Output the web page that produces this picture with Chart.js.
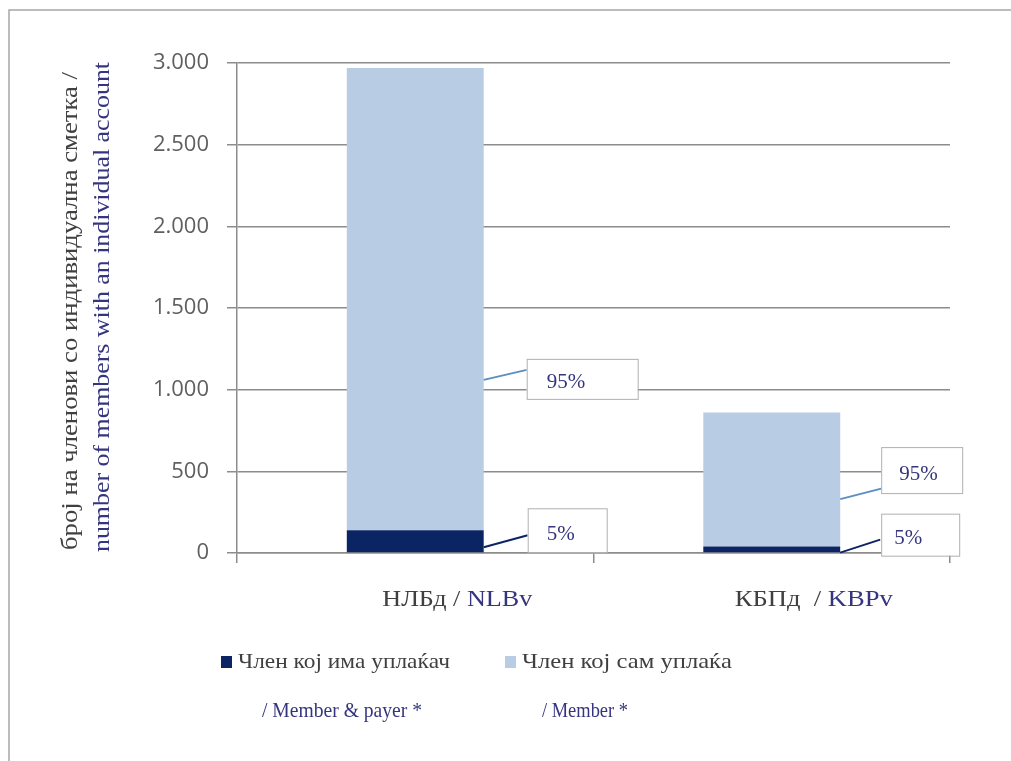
<!DOCTYPE html>
<html>
<head>
<meta charset="utf-8">
<script src="https://cdn.jsdelivr.net/npm/chart.js@4/dist/chart.umd.min.js"></script>
<style>
  html, body { margin: 0; padding: 0; background: #fff; }
  canvas { display: block; }
</style>
</head>
<body>
<canvas id="c" width="1011" height="761"></canvas>
<script>
// --- data -------------------------------------------------------------
const categoriesMk = ['НЛБд /', 'КБПд  /'];
const categoriesEn = ['NLBv', 'KBPv'];
const payerMembers = [140, 40];     // Член кој има уплаќач / Member & payer
const selfMembers  = [2830, 820];   // Член кој сам уплаќа / Member
const yTickLabels  = ['0', '500', '1.000', '1.500', '2.000', '2.500', '3.000'];
const shareLabels  = { payer: ['5%', '5%'], self: ['95%', '95%'] };

// --- look -------------------------------------------------------------
const NAVY = '#0b2463';
const LIGHT = '#b8cce3';
const GRID = '#8c8c8c';
const BLUE_TXT = '#35357f';
const GRAY_TXT = '#404040';
const SERIF = "'Liberation Serif', 'DejaVu Serif', serif";

// callout placement: anchor value on the bar's right edge, box offset from it
const callouts = [
  { ds: 1, i: 0, text: shareLabels.self[0],  anchor: 1060, dx: 43, dy: -10, bx: 43, by: -21, w: 111, h: 40, tx: 20, line: '#5b8ec2' },
  { ds: 0, i: 0, text: shareLabels.payer[0], anchor: 35,   dx: 44, dy: -12, bx: 44, by: -39, w: 79,  h: 44, tx: 19, line: NAVY },
  { ds: 1, i: 1, text: shareLabels.self[1],  anchor: 330,  dx: 43, dy: -11, bx: 41, by: -52, w: 81,  h: 46, tx: 18, line: '#5b8ec2' },
  { ds: 0, i: 1, text: shareLabels.payer[1], anchor: 2,    dx: 40, dy: -13, bx: 41, by: -39, w: 78,  h: 42, tx: 13, line: NAVY },
];

// draws text squeezed/stretched to the width it has in the original (Cambria is wider than Times)
function fitText(ctx, text, x, y, width) {
  const sx = width / ctx.measureText(text).width;
  ctx.save();
  ctx.translate(x, y);
  ctx.scale(sx, 1);
  ctx.textAlign = 'left';
  ctx.fillText(text, 0, 0);
  ctx.restore();
  return width;
}

const decor = {
  id: 'decor',
  beforeDraw(chart) {
    const ctx = chart.ctx;
    ctx.save();
    ctx.strokeStyle = '#a6a6a6';
    ctx.lineWidth = 1.5;
    ctx.beginPath();
    ctx.moveTo(9, 761); ctx.lineTo(9, 10); ctx.lineTo(1011, 10);
    ctx.stroke();
    ctx.restore();
  },
  afterDatasetsDraw(chart) {
    const ctx = chart.ctx;
    const y = chart.scales.y, x = chart.scales.x;
    ctx.save();
    ctx.textBaseline = 'middle';

    // callouts
    callouts.forEach(c => {
      const bar = chart.getDatasetMeta(c.ds).data[c.i];
      const ax = bar.x + bar.width / 2;
      const ay = y.getPixelForValue(c.anchor);
      ctx.strokeStyle = c.line;
      ctx.lineWidth = 2;
      ctx.beginPath();
      ctx.moveTo(ax, ay); ctx.lineTo(ax + c.dx, ay + c.dy);
      ctx.stroke();
      ctx.fillStyle = '#fff';
      ctx.fillRect(ax + c.bx, ay + c.by, c.w, c.h);
      ctx.strokeStyle = '#b0b0b0';
      ctx.lineWidth = 1;
      ctx.strokeRect(ax + c.bx + 0.5, ay + c.by + 0.5, c.w, c.h);
      ctx.fillStyle = BLUE_TXT;
      ctx.font = '21px ' + SERIF;
      ctx.textAlign = 'left';
      ctx.fillText(c.text, ax + c.bx + c.tx, ay + c.by + c.h / 2 + 4);
    });

    // category labels (two colours)
    const catWidths = [150, 158];
    ctx.font = '23px ' + SERIF;
    categoriesMk.forEach((mk, i) => {
      const cx = x.getPixelForValue(i) + 42;
      const en = categoriesEn[i];
      const m1 = ctx.measureText(mk + ' ').width;
      const m2 = ctx.measureText(en).width;
      const k = catWidths[i] / (m1 + m2);
      const left = cx - catWidths[i] / 2;
      ctx.fillStyle = GRAY_TXT;
      fitText(ctx, mk + ' ', left, 600, m1 * k);
      ctx.fillStyle = BLUE_TXT;
      fitText(ctx, en, left + m1 * k, 600, m2 * k);
    });

    // y axis title, two lines
    ctx.font = '24px ' + SERIF;
    [['број на членови со индивидуална сметка /', 71, 311, 478, GRAY_TXT],
     ['number of members with an individual account', 103, 307, 490, BLUE_TXT]].forEach(([t, cx, cy, w, col]) => {
      ctx.save();
      ctx.translate(cx, cy);
      ctx.rotate(-Math.PI / 2);
      ctx.fillStyle = col;
      fitText(ctx, t, -w / 2, 0, w);
      ctx.restore();
    });

    // legend
    const items = [
      { color: NAVY,  l1: 'Член кој има уплаќач', w1: 212, l2: '/ Member & payer *', w2: 160, x: 221, x2: 262 },
      { color: LIGHT, l1: 'Член кој сам уплаќа',  w1: 210, l2: '/ Member *',         w2: 86,  x: 505, x2: 542 },
    ];
    items.forEach(it => {
      ctx.fillStyle = it.color;
      ctx.fillRect(it.x, 656, 11, 12);
      ctx.font = '22px ' + SERIF;
      ctx.fillStyle = GRAY_TXT;
      fitText(ctx, it.l1, it.x + 17, 662, it.w1);
      ctx.font = '21px ' + SERIF;
      ctx.fillStyle = BLUE_TXT;
      fitText(ctx, it.l2, it.x2, 711, it.w2);
    });
    ctx.restore();
  }
};

new Chart(document.getElementById('c'), {
  type: 'bar',
  data: {
    labels: categoriesEn,
    datasets: [
      { label: 'Член кој има уплаќач / Member & payer *', data: payerMembers, backgroundColor: NAVY },
      { label: 'Член кој сам уплаќа / Member *', data: selfMembers, backgroundColor: LIGHT },
    ],
  },
  options: {
    responsive: false,
    animation: false,
    devicePixelRatio: 1,
    layout: { padding: { left: 0, top: 63, right: 61, bottom: 0 } },
    datasets: { bar: { categoryPercentage: 1, barPercentage: 0.384, borderWidth: 0 } },
    plugins: { legend: { display: false }, tooltip: { enabled: false } },
    scales: {
      x: {
        stacked: true,
        afterFit: (s) => { s.height = 208; },
        grid: { drawOnChartArea: false, tickLength: 10, color: GRID, lineWidth: 1.5 },
        border: { color: GRID, width: 1.5 },
        ticks: { callback: () => '' },
      },
      y: {
        stacked: true,
        min: 0, max: 3000,
        afterFit: (s) => { s.width = 237; },
        grid: { color: GRID, lineWidth: 1.5, tickLength: 10 },
        border: { color: GRID, width: 1.5 },
        ticks: {
          stepSize: 500, padding: 18, color: '#5f5f5f',
          font: { family: "'Open Sans', sans-serif", size: 22 },
          callback: (v, i) => yTickLabels[i],
        },
      },
    },
  },
  plugins: [decor],
});
</script>
</body>
</html>
